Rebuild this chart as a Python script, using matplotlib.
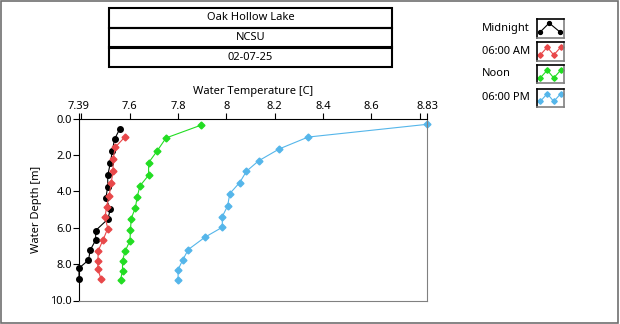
import matplotlib.pyplot as plt
from matplotlib.patches import Rectangle

# data (depth in m, temperature in C)
mid_depth = [0.58, 1.13, 1.76, 2.42, 3.11, 3.73, 4.38, 4.98, 5.53, 6.15, 6.68, 7.21, 7.78, 8.22, 8.79]
mid_temp = [7.558, 7.537, 7.528, 7.520, 7.509, 7.509, 7.501, 7.520, 7.509, 7.459, 7.459, 7.437, 7.429, 7.39, 7.39]

am_depth = [0.99, 1.57, 2.23, 2.89, 3.55, 4.23, 4.83, 5.42, 6.04, 6.65, 7.25, 7.82, 8.27, 8.81]
am_temp = [7.581, 7.540, 7.531, 7.531, 7.523, 7.515, 7.504, 7.498, 7.509, 7.490, 7.470, 7.468, 7.468, 7.481]

noon_depth = [0.36, 1.06, 1.76, 2.42, 3.11, 3.70, 4.30, 4.91, 5.49, 6.12, 6.70, 7.29, 7.80, 8.35, 8.86]
noon_temp = [7.894, 7.750, 7.714, 7.678, 7.678, 7.642, 7.631, 7.623, 7.606, 7.603, 7.601, 7.581, 7.570, 7.570, 7.562]

pm_depth = [0.31, 1.01, 1.66, 2.32, 2.89, 3.51, 4.12, 4.80, 5.38, 5.97, 6.52, 7.20, 7.75, 8.30, 8.86]
pm_temp = [8.83, 8.338, 8.219, 8.133, 8.083, 8.055, 8.014, 8.005, 7.983, 7.983, 7.911, 7.842, 7.820, 7.800, 7.800]

series_names = ["Midnight", "06:00 AM", "Noon", "06:00 PM"]
colors = ["black", "#e8484a", "#22dd22", "#55b6ea"]
markers = ["o", "D", "D", "D"]

title_lines = ["Oak Hollow Lake", "NCSU", "02-07-25"]

x_ticks = [7.39, 7.4, 7.6, 7.8, 8.0, 8.2, 8.4, 8.6, 8.8, 8.83]
x_labels = ["7.39", "", "7.6", "7.8", "8", "8.2", "8.4", "8.6", "", "8.83"]
y_ticks = [0, 2, 4, 6, 8, 10]

plt.rcParams['font.family'] = ['Noto Sans', 'DejaVu Sans']
fs = 8

fig = plt.figure(figsize=(6.2, 3.24), dpi=100)

# outer frame
fig.patches.append(Rectangle((0.001, 0.004), 0.996, 0.993, transform=fig.transFigure,
                             fill=False, edgecolor='#707070', linewidth=1.2))

ax = fig.add_axes([79 / 620, 1 - 300.5 / 324, 348 / 620, 181.8 / 324])
data = [(mid_temp, mid_depth), (am_temp, am_depth), (noon_temp, noon_depth), (pm_temp, pm_depth)]
for (t, d), c, m in zip(data, colors, markers):
    ms = 4 if m == "o" else 3.5
    ax.plot(t, d, color=c, marker=m, markersize=ms, linewidth=0.8, clip_on=False)

ax.set_xlim(7.39, 8.83)
ax.set_ylim(10, 0)
ax.xaxis.tick_top()
ax.xaxis.set_label_position('top')
ax.set_xticks(x_ticks)
ax.set_xticklabels(x_labels)
ax.set_yticks(y_ticks)
ax.set_yticklabels(["{:.1f}".format(v) for v in y_ticks])
ax.tick_params(labelsize=fs, length=4, width=0.8, pad=1)
ax.set_xlabel("Water Temperature [C]", fontsize=fs, labelpad=5)
ax.set_ylabel("Water Depth [m]", fontsize=fs, labelpad=6)
ax.spines['left'].set_color('black')
ax.spines['top'].set_color('black')
ax.spines['right'].set_color('#808080')
ax.spines['bottom'].set_color('#808080')

# title boxes
box_left, box_right = 109 / 620, 392 / 620
row_edges = [8, 27.5, 47.5, 67]
for i, txt in enumerate(title_lines):
    y0 = 1 - row_edges[i + 1] / 324
    h = (row_edges[i + 1] - row_edges[i]) / 324
    fig.patches.append(Rectangle((box_left, y0), box_right - box_left, h, transform=fig.transFigure,
                                 fill=False, edgecolor='black', linewidth=1.5))
    fig.text((box_left + box_right) / 2, y0 + h / 2, txt, ha='center', va='center', fontsize=fs)

# legend with small swatches
sw_top = [19, 42, 65, 88.5]
for i, name in enumerate(series_names):
    yc = sw_top[i] + 9
    fig.text(482 / 620, 1 - yc / 324, name, ha='left', va='center', fontsize=fs)
    sax = fig.add_axes([537 / 620, 1 - (sw_top[i] + 18.5) / 324, 27 / 620, 18.5 / 324])
    if i == 0:
        sx, sy = [0.12, 0.45, 0.85], [0.3, 0.78, 0.3]
    else:
        sx, sy = [0.12, 0.38, 0.62, 0.88], [0.3, 0.72, 0.3, 0.72]
    sax.plot(sx, sy, color=colors[i], marker=markers[i], markersize=2.8, linewidth=0.8)
    sax.set_xlim(0, 1)
    sax.set_ylim(0, 1)
    sax.set_xticks([])
    sax.set_yticks([])
    for s in sax.spines.values():
        s.set_linewidth(1.2)
    sax.spines['right'].set_color('#808080')
    sax.spines['bottom'].set_color('#808080')

fig.savefig("out.png", dpi=100)
